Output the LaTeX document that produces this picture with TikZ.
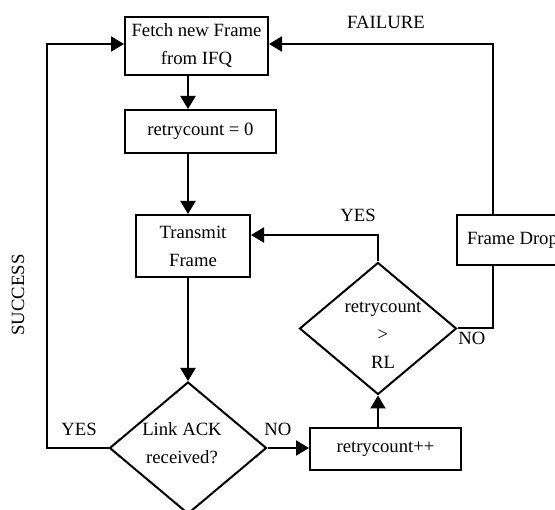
\documentclass[tikz,border=0pt]{standalone}
\usepackage{fontspec}
\setmainfont{Liberation Serif}
\usetikzlibrary{arrows.meta,shapes.geometric,calc}
\tikzset{
	procbox/.style={draw,line width=2pt,inner sep=0pt,align=center},
	decision/.style={diamond,draw,line width=2pt,inner sep=0pt,minimum width=157pt,minimum height=132pt},
	edge/.style={line width=2pt},
	diredge/.style={->,>={Triangle[width=15pt,length=13pt]},line width=2pt},
	flowlabel/.style={inner sep=0pt,align=center}
}

\begin{document}
\begin{tikzpicture}[x=1pt,y=-1pt,font=\fontsize{18.7}{28}\selectfont]
	\useasboundingbox (0,0) rectangle (555,510);
	%%%boxes
	\node[procbox,minimum width=143pt,minimum height=58pt] (fetch) at (196.5,46) {Fetch new Frame\\from IFQ};
	\node[procbox,minimum width=151pt,minimum height=43pt] (r0) at (200.5,131.5) {retrycount = 0};
	\node[procbox,minimum width=114pt,minimum height=62pt] (tx) at (193,246) {Transmit\\Frame};
	\node[procbox,minimum width=151pt,minimum height=42pt] (inc) at (385.5,449) {retrycount++};
	\node[procbox,minimum width=111pt,minimum height=50pt] (drop) at (512.5,240) {Frame Drop};

	%%%decisions
	\node[decision] (lack) at (188,448) {};
	\node[flowlabel] (lacktxt) at (182,443) {Link ACK\\received?};
	\node[decision] (chk) at (378,328.5) {};
	\node[flowlabel] (chktxt) at (383,335) {retrycount\\>\\RL};

	\coordinate (succturn) at (47,44);
	\coordinate (failturn) at (493,44);
	\coordinate (yesturn) at (378,235);

	%%%flow
	\draw[diredge] (lack |- fetch.south) -- (lack |- r0.north);
	\draw[diredge] (lack |- r0.south) -- (lack |- tx.north);
	\draw[diredge] (lack |- tx.south) -- (lack.north);
	\draw[diredge] (lack.east) -- (lack.east -| inc.west);
	\draw[diredge] (chk |- inc.north) -- (chk.south);
	\draw[diredge] (chk.north) -- (yesturn) -- (yesturn -| tx.east);
	\draw[edge] (chk.east) -| (failturn |- drop.south);
	\draw[diredge] (failturn |- drop.north) -- (failturn) -- (failturn -| fetch.east);
	\draw[diredge] (lack.west) -| (succturn) -- (succturn -| fetch.west);

	%%%labels
	\node[flowlabel,rotate=90] (succlbl) at (18,295) {SUCCESS};
	\node[flowlabel] (faillbl) at (386,22) {FAILURE};
	\node[flowlabel] (yes1) at (79,429) {YES};
	\node[flowlabel] (no1) at (278,429) {NO};
	\node[flowlabel] (yes2) at (358,215) {YES};
	\node[flowlabel] (no2) at (472,338) {NO};
\end{tikzpicture}
\end{document}
